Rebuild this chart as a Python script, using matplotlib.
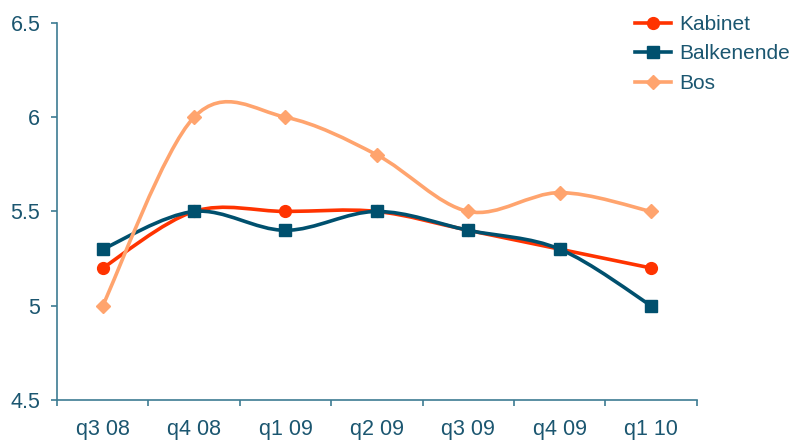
import numpy as np
import matplotlib.pyplot as plt
from matplotlib.path import Path
from matplotlib.patches import PathPatch
from matplotlib.lines import Line2D

plt.rcParams['font.family'] = ['Liberation Sans', 'DejaVu Sans']

quarters = ['q3 08', 'q4 08', 'q1 09', 'q2 09', 'q3 09', 'q4 09', 'q1 10']
kabinet = [5.2, 5.5, 5.5, 5.5, 5.4, 5.3, 5.2]
balkenende = [5.3, 5.5, 5.4, 5.5, 5.4, 5.3, 5.0]
bos = [5.0, 6.0, 6.0, 5.8, 5.5, 5.6, 5.5]

names = ['Kabinet', 'Balkenende', 'Bos']
colors = ['#FF3300', '#00506E', '#FFA46E']
markers = ['o', 's', 'D']
msizes = [8.5, 8, 7]
text_col = '#1B5670'
axis_col = '#3D7C92'


def smooth_path(x, y):
    # excel style smoothed line (catmull-rom as cubic bezier)
    pts = np.column_stack([x, y]).astype(float)
    ext = np.vstack([pts[0], pts, pts[-1]])
    verts = [pts[0]]
    codes = [Path.MOVETO]
    for i in range(len(pts) - 1):
        p0, p1, p2, p3 = ext[i], ext[i + 1], ext[i + 2], ext[i + 3]
        verts += [p1 + (p2 - p0) / 6, p2 - (p3 - p1) / 6, p2]
        codes += [Path.CURVE4] * 3
    return Path(verts, codes)


fig = plt.figure(figsize=(7.91, 4.41), dpi=100)
ax = fig.add_axes([0.072, 0.093, 0.809, 0.855])

x = np.arange(len(quarters))
handles = []
for i, vals in enumerate([kabinet, balkenende, bos]):
    ax.add_patch(PathPatch(smooth_path(x, vals), facecolor='none', edgecolor=colors[i],
                           lw=2.6, zorder=2 + i, capstyle='round'))
    ax.plot(x, vals, linestyle='none', marker=markers[i], ms=msizes[i],
            color=colors[i], zorder=2 + i)
    handles.append(Line2D([], [], color=colors[i], lw=2.6, marker=markers[i], ms=msizes[i]))

ax.set_xlim(-0.5, 6.5)
ax.set_ylim(4.5, 6.5)
ax.set_yticks([4.5, 5, 5.5, 6, 6.5])
ax.set_yticklabels(['4.5', '5', '5.5', '6', '6.5'])
ax.set_xticks(x)
ax.set_xticklabels(quarters)
ax.set_xticks(np.arange(-0.5, 7, 1), minor=True)
ax.tick_params(axis='x', which='major', length=0, pad=14, labelsize=15.5, labelcolor=text_col)
ax.tick_params(axis='x', which='minor', length=4, width=1.2, color=axis_col)
ax.tick_params(axis='y', length=4, width=1.2, color=axis_col, pad=8, labelsize=15.5, labelcolor=text_col)

for s in ['top', 'right']:
    ax.spines[s].set_visible(False)
for s in ['left', 'bottom']:
    ax.spines[s].set_color(axis_col)
    ax.spines[s].set_linewidth(1.2)

fig.legend(handles, names, loc='upper left', bbox_to_anchor=(0.803, 0.966), frameon=False,
           fontsize=15, labelcolor=text_col, handlelength=1.7, handletextpad=0.4,
           labelspacing=0.5, borderpad=0, borderaxespad=0)

plt.savefig('out.png')
